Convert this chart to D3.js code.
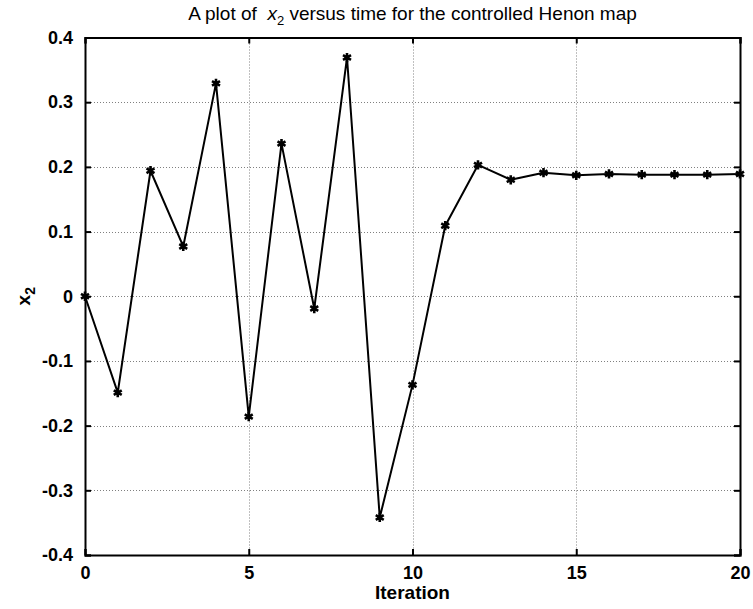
<!DOCTYPE html>
<html>
<head>
<meta charset="utf-8">
<script src="https://cdn.jsdelivr.net/npm/d3@7"></script>
<style>
  body { margin: 0; background: #fff; }
  text { font-family: "Liberation Sans", Arial, sans-serif; }
</style>
</head>
<body>
<div id="vis"></div>
<script>
// values
const iterations = [0, 1, 2, 3, 4, 5, 6, 7, 8, 9, 10, 11, 12, 13, 14, 15, 16, 17, 18, 19, 20];
const x2Values = [0, -0.149, 0.194, 0.077, 0.329, -0.186, 0.236, -0.019, 0.369, -0.342,
                  -0.137, 0.109, 0.203, 0.180, 0.191, 0.187, 0.189, 0.188, 0.188, 0.188, 0.189];
const xTicks = [0, 5, 10, 15, 20];
const yTicks = [-0.4, -0.3, -0.2, -0.1, 0, 0.1, 0.2, 0.3, 0.4];

const width = 753;
const height = 609;
const margin = {top: 37.5, right: 13, bottom: 54, left: 85};

const svg = d3.select('#vis')
  .append('svg')
    .attr('width', width)
    .attr('height', height);

const x = d3.scaleLinear()
  .domain([0, 20])
  .range([margin.left, width - margin.right]);
const y = d3.scaleLinear()
  .domain([-0.4, 0.4])
  .range([height - margin.bottom, margin.top]);

// matlab style labels: plain hyphen, bare 0
const fmtY = d => d === 0 ? '0' : d.toFixed(1);
const fmtX = d => String(d);

// dotted grid
const grid = svg.append('g')
  .attr('stroke', '#808080')
  .attr('stroke-width', 1)
  .attr('stroke-dasharray', '1,2');
grid.selectAll('.gx')
  .data(xTicks.slice(1, -1))
  .join('line')
    .attr('x1', d => Math.round(x(d)) + 0.5)
    .attr('x2', d => Math.round(x(d)) + 0.5)
    .attr('y1', y(0.4))
    .attr('y2', y(-0.4));
grid.selectAll('.gy')
  .data(yTicks.slice(1, -1))
  .join('line')
    .attr('y1', d => Math.round(y(d)) + 0.5)
    .attr('y2', d => Math.round(y(d)) + 0.5)
    .attr('x1', x(0))
    .attr('x2', x(20));

// axes with inward ticks (box style)
const tick = 6;
svg.append('g')
  .attr('transform', `translate(0,${y(-0.4)})`)
  .call(d3.axisBottom(x).tickValues(xTicks).tickSize(-tick).tickPadding(11).tickFormat(fmtX));
svg.append('g')
  .attr('transform', `translate(0,${y(0.4)})`)
  .call(d3.axisTop(x).tickValues(xTicks).tickSize(-tick).tickFormat(''));
svg.append('g')
  .attr('transform', `translate(${x(0)},0)`)
  .call(d3.axisLeft(y).tickValues(yTicks).tickSize(-tick).tickPadding(12).tickFormat(fmtY));
svg.append('g')
  .attr('transform', `translate(${x(20)},0)`)
  .call(d3.axisRight(y).tickValues(yTicks).tickSize(-tick).tickFormat(''));

svg.selectAll('.domain')
  .attr('stroke', '#000')
  .attr('stroke-width', 2);
svg.selectAll('.tick line')
  .attr('stroke', '#000')
  .attr('stroke-width', 2);
svg.selectAll('.tick text')
  .attr('fill', '#000')
  .style('font-family', '"Liberation Sans", Arial, sans-serif')
  .style('font-size', '18px')
  .style('font-weight', 'bold');

// data line
const line = d3.line()
  .x((d, i) => x(iterations[i]))
  .y(d => y(d));
svg.append('path')
  .datum(x2Values)
  .attr('d', line)
  .attr('fill', 'none')
  .attr('stroke', '#000')
  .attr('stroke-width', 2)
  .attr('stroke-linejoin', 'round');

// asterisk markers
svg.append('g')
  .selectAll('path')
  .data(x2Values)
  .join('path')
    .attr('transform', (d, i) => `translate(${x(iterations[i])},${y(d)})`)
    .attr('d', d3.symbol(d3.symbolAsterisk).size(60))
    .attr('fill', 'none')
    .attr('stroke', '#000')
    .attr('stroke-width', 2.6);

// title (keeps the double space before x)
const title = svg.append('text')
  .attr('x', (x(0) + x(20)) / 2)
  .attr('y', 20)
  .attr('text-anchor', 'middle')
  .style('white-space', 'pre')
  .style('font-size', '19px');
title.append('tspan').text('A plot of  ');
title.append('tspan').style('font-style', 'italic').text('x');
title.append('tspan').attr('dy', 5).style('font-size', '13px').text('2');
title.append('tspan').attr('dy', -5).text(' versus time for the controlled Henon map');

// axis labels
svg.append('text')
  .attr('x', (x(0) + x(20)) / 2)
  .attr('y', 599)
  .attr('text-anchor', 'middle')
  .style('font-size', '19px')
  .style('font-weight', 'bold')
  .text('Iteration');

const ylab = svg.append('text')
  .attr('transform', `translate(30,${(y(0.4) + y(-0.4)) / 2}) rotate(-90)`)
  .attr('text-anchor', 'middle')
  .style('font-size', '19px')
  .style('font-weight', 'bold');
ylab.append('tspan').text('x');
ylab.append('tspan').attr('dy', 5).style('font-size', '14px').text('2');
</script>
</body>
</html>
